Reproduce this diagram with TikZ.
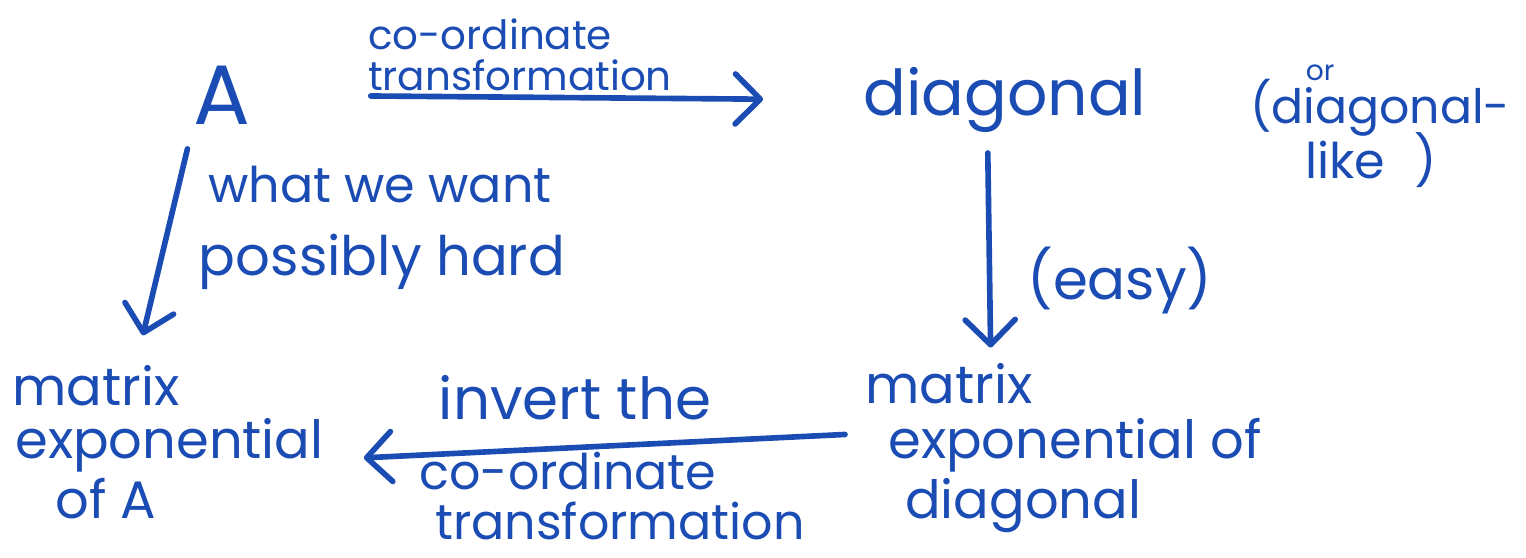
\documentclass[tikz,border=0pt]{standalone}
\usepackage{fontspec}
\setmainfont{Poppins}
\usepackage{xcolor}
\usepackage{tikz}
\usetikzlibrary{arrows.meta}
\definecolor{ink}{RGB}{26,76,180}
\newcommand{\handsz}[1]{\fontsize{#1}{#1}\selectfont}

\begin{document}
\begin{tikzpicture}[x=0.02cm, y=-0.02cm,
    hand/.style={text=ink, inner sep=0pt, align=left},
    line/.style={hand, anchor=base west, font=\handsz{30}},
    arr/.style={draw=ink, line width=3.2pt, line cap=round, -{Straight Barb[length=0.5cm, width=1cm, round]}},
]
\useasboundingbox (0,0) rectangle (1526,558);

\node[hand, font=\handsz{48}] (A) at (222,95) {A};
\node[hand, font=\handsz{36}] (diag) at (1005,100) {diagonal};
\node[hand, font=\fontsize{23}{23}\selectfont] (ctTop) at (520,55) {co-ordinate\\transformation};
\node[hand, font=\handsz{16}] (or) at (1320,73) {or};
\node[hand, font=\handsz{27}] (dlike1) at (1380,108) {(diagonal-};
\node[hand, font=\handsz{28}, anchor=base west] (dlike2) at (1305,178) {like\hspace{0.6em})};
\node[hand, font=\handsz{28}] (want) at (380,185) {what we want};
\node[hand, font=\handsz{31}] (hard) at (382,262) {possibly hard};
\node[hand, font=\handsz{32}] (easy) at (1120,280) {(easy)};

\node[line] (mexpL1) at (12,405) {matrix};
\node[line] (mexpL2) at (15,458) {exponential};
\node[line] (mexpL3) at (55,518) {of A};
\node[line] (mexpR1) at (865,403) {matrix};
\node[line] (mexpR2) at (888,458) {exponential of};
\node[line] (mexpR3) at (905,518) {diagonal};

\node[hand, font=\handsz{33}] (invert) at (575,398) {invert the};
\node[hand, font=\handsz{28}] (ctBot1) at (568,471) {co-ordinate};
\node[hand, font=\handsz{28}] (ctBot2) at (620,521) {transformation};

\draw[arr, shorten <=2.4cm, shorten >=2cm] (A.east) -- (diag.west);
\draw[arr, shorten <=0.5cm, shorten >=0.6cm] (A.south west) -- ([xshift=0.8cm]mexpL1.north);
\draw[arr, shorten <=0.4cm, shorten >=0.3cm] ([xshift=-0.35cm]diag.south) -- ([xshift=0.84cm]mexpR1.north);
\draw[arr, shorten <=0.86cm, shorten >=0.8cm] ([yshift=-0.3cm]mexpR2.north west) -- ([yshift=-0.3cm]mexpL2.east);

\end{tikzpicture}
\end{document}
